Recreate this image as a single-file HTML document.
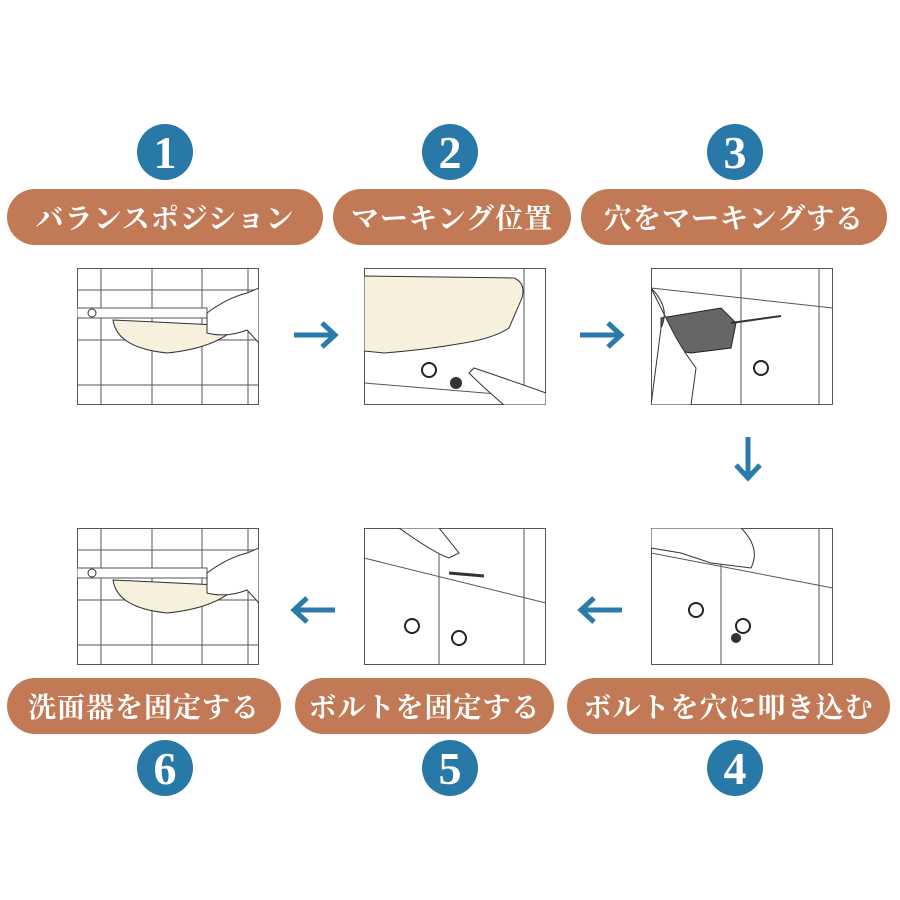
<!DOCTYPE html>
<html><head><meta charset="utf-8"><style>
body{margin:0;width:900px;height:900px;background:#fff;position:relative;overflow:hidden;font-family:"Liberation Serif","Noto Serif CJK SC",serif}
.c{position:absolute;width:56px;height:56px;border-radius:50%;background:#2878a8;color:#fff;font-size:46px;font-weight:bold;text-align:center;line-height:58px}
.p{position:absolute;height:56px;border-radius:28px;background:#c27a56;color:#fff;font-size:28px;font-weight:bold;text-align:center;line-height:56px;letter-spacing:1px;white-space:nowrap;font-family:"Noto Serif CJK SC","Liberation Serif",serif}
.img{position:absolute;width:182px;height:137px}
.a{position:absolute}
</style></head><body>
<div class="c" style="left:137px;top:124px">1</div>
<div class="c" style="left:422px;top:124px">2</div>
<div class="c" style="left:707px;top:124px">3</div>
<div class="c" style="left:707px;top:740px">4</div>
<div class="c" style="left:422px;top:740px">5</div>
<div class="c" style="left:137px;top:740px">6</div>

<div class="p" style="left:7px;top:189px;width:316px">バランスポジション</div>
<div class="p" style="left:333px;top:189px;width:238px">マーキング位置</div>
<div class="p" style="left:581px;top:189px;width:306px">穴をマーキングする</div>
<div class="p" style="left:567px;top:678px;width:323px">ボルトを穴に叩き込む</div>
<div class="p" style="left:295px;top:678px;width:259px">ボルトを固定する</div>
<div class="p" style="left:7px;top:678px;width:274px">洗面器を固定する</div>

<svg class="img" style="left:77px;top:268px" viewBox="0 0 182 137">
<g stroke="#555" stroke-width="1" fill="none"><rect x="0.5" y="0.5" width="181" height="136"/>
<path d="M24 0V137M75 0V137M125 0V137M171 0V137M0 22H182M0 72H182M0 117H182"/></g>
<rect x="0" y="40" width="130" height="10" fill="#fff" stroke="#555"/>
<circle cx="15" cy="45" r="4" fill="#fff" stroke="#333"/>
<path d="M36 52 Q40 80 90 85 Q140 80 160 58 L36 52Z" fill="#f7f0dc" stroke="#333"/>
<path d="M130 45 Q150 30 170 25 L182 20 V75 L170 62 Q150 70 130 65 Z" fill="#fff" stroke="#333"/>
</svg>
<svg class="img" style="left:364px;top:268px" viewBox="0 0 182 137">
<g stroke="#555" fill="none"><rect x="0.5" y="0.5" width="181" height="136"/><path d="M0 115 L182 130M160 0V137"/></g>
<path d="M0 8 L150 10 Q162 15 158 30 L145 60 Q130 70 100 75 Q60 82 20 85 L0 83Z" fill="#f7f0dc" stroke="#333"/>
<circle cx="65" cy="102" r="7" fill="#fff" stroke="#222" stroke-width="2"/>
<circle cx="92" cy="115" r="6" fill="#333"/>
<path d="M110 100 Q140 110 182 125 V137 H140 Q120 120 105 105Z" fill="#fff" stroke="#333"/>
</svg>
<svg class="img" style="left:651px;top:268px" viewBox="0 0 182 137">
<g stroke="#555" fill="none"><rect x="0.5" y="0.5" width="181" height="136"/><path d="M0 20 L182 40M90 0V137M168 0V137"/></g>
<path d="M10 50 L70 40 L85 55 L80 80 L40 85 L10 80Z" fill="#666" stroke="#222"/>
<path d="M80 55 L130 48" stroke="#333" stroke-width="2"/>
<path d="M0 20 Q20 40 10 60 L0 137 H40 L45 100 Q30 80 20 60Z" fill="#fff" stroke="#333"/>
<circle cx="110" cy="100" r="7" fill="#fff" stroke="#222" stroke-width="2"/>
</svg>
<svg class="img" style="left:651px;top:528px" viewBox="0 0 182 137">
<g stroke="#555" fill="none"><rect x="0.5" y="0.5" width="181" height="136"/><path d="M0 25 L182 60M70 0V137M168 0V137"/></g>
<path d="M0 0 H90 Q110 20 100 40 L60 35 L30 25 L0 20Z" fill="#fff" stroke="#333"/>
<circle cx="45" cy="82" r="7" fill="#fff" stroke="#222" stroke-width="2"/>
<circle cx="92" cy="98" r="7" fill="#fff" stroke="#222" stroke-width="2"/>
<circle cx="85" cy="110" r="5" fill="#333"/>
</svg>
<svg class="img" style="left:364px;top:528px" viewBox="0 0 182 137">
<g stroke="#555" fill="none"><rect x="0.5" y="0.5" width="181" height="136"/><path d="M0 30 L182 75M75 0V137M160 0V137"/></g>
<path d="M35 0 Q70 25 85 30 L95 25 L75 0Z" fill="#fff" stroke="#333"/>
<path d="M85 45 L120 48" stroke="#333" stroke-width="3"/>
<circle cx="48" cy="98" r="7" fill="#fff" stroke="#222" stroke-width="2"/>
<circle cx="95" cy="110" r="7" fill="#fff" stroke="#222" stroke-width="2"/>
</svg>
<svg class="img" style="left:77px;top:528px" viewBox="0 0 182 137">
<g stroke="#555" stroke-width="1" fill="none"><rect x="0.5" y="0.5" width="181" height="136"/>
<path d="M24 0V137M75 0V137M125 0V137M171 0V137M0 22H182M0 72H182M0 117H182"/></g>
<rect x="0" y="40" width="130" height="10" fill="#fff" stroke="#555"/>
<circle cx="15" cy="45" r="4" fill="#fff" stroke="#333"/>
<path d="M36 52 Q40 80 90 85 Q140 80 160 58 L36 52Z" fill="#f7f0dc" stroke="#333"/>
<path d="M130 45 Q150 30 170 25 L182 20 V75 L170 62 Q150 70 130 65 Z" fill="#fff" stroke="#333"/>
</svg>

<svg class="a" style="left:0;top:0" width="900" height="900">
<g stroke="#2a7aab" stroke-width="5" fill="none">
<path d="M294 335H334M322 323L335 335L322 347"/>
<path d="M580 335H620M608 323L621 335L608 347"/>
<path d="M748 437V477M736 465L748 478L760 465"/>
<path d="M335 610H295M307 598L294 610L307 622"/>
<path d="M622 610H582M594 598L581 610L594 622"/>
</g></svg>
</body></html>
